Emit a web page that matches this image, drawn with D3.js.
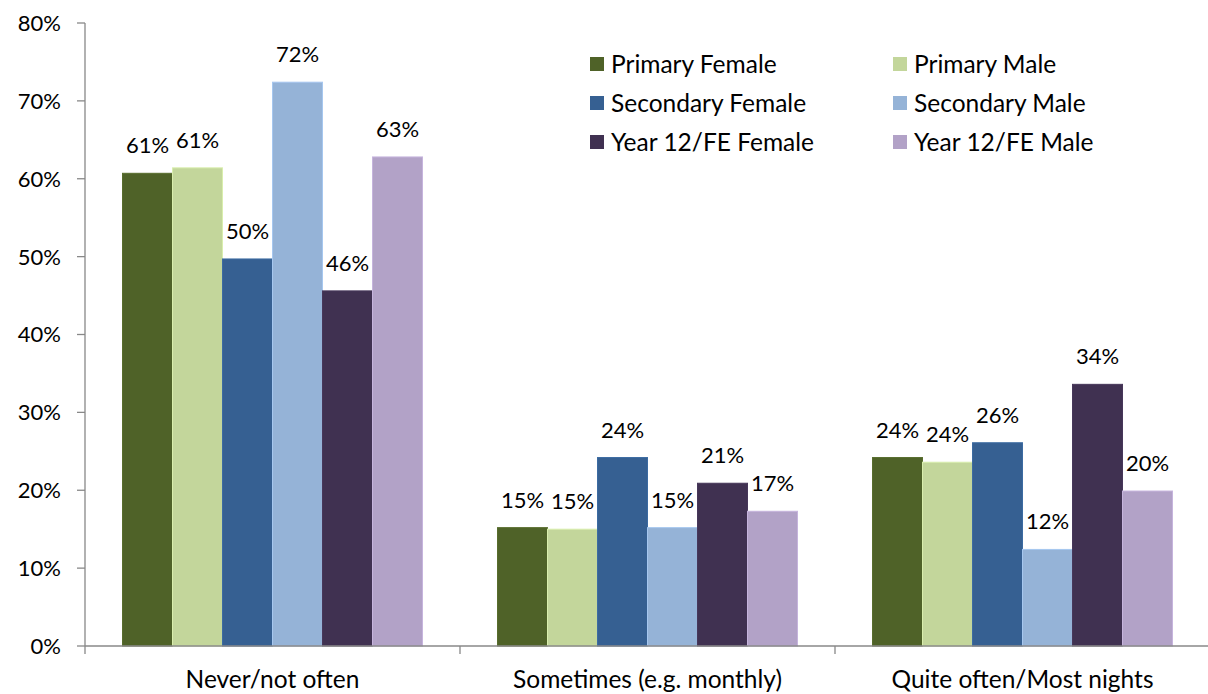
<!DOCTYPE html>
<html>
<head>
<meta charset="utf-8">
<script src="https://cdn.jsdelivr.net/npm/d3@7"></script>
<style>
  body { margin: 0; background: #fff; }
  text { font-family: Lato, "Open Sans", sans-serif; fill: #000; }
</style>
</head>
<body>
<script>
const categories = ["Never/not often", "Sometimes (e.g. monthly)", "Quite often/Most nights"];
const seriesNames = ["Primary Female", "Primary Male", "Secondary Female", "Secondary Male", "Year 12/FE Female", "Year 12/FE Male"];
const seriesColors = ["#4F6228", "#C3D69B", "#366092", "#95B3D7", "#403151", "#B2A2C7"];
const primaryFemale = [60.7, 15.2, 24.2];
const primaryMale = [61.4, 15.0, 23.6];
const secondaryFemale = [49.7, 24.2, 26.1];
const secondaryMale = [72.4, 15.2, 12.4];
const y12Female = [45.6, 20.9, 33.6];
const y12Male = [62.8, 17.3, 19.9];
const yTicks = [0, 10, 20, 30, 40, 50, 60, 70, 80];

const seriesValues = [primaryFemale, primaryMale, secondaryFemale, secondaryMale, y12Female, y12Male];

const margin = { top: 23, right: -2, bottom: 48, left: 85 };
const W = 1208, H = 694;
const width = W - margin.left - margin.right;
const height = H - margin.top - margin.bottom;

const svg = d3.select("body").append("svg")
  .attr("width", W)
  .attr("height", H)
  .append("g")
  .attr("transform", `translate(${margin.left}, ${margin.top})`);

const x0 = d3.scaleBand().domain(categories).range([0, width]).paddingInner(0).paddingOuter(0);
const x1 = d3.scaleBand().domain(seriesNames).range([0, 300]);
const y = d3.scaleLinear().domain([0, 80]).range([height, 0]);
const groupPad = (x0.bandwidth() - 300) / 2;

// axes drawn by hand, Excel style
svg.append("line")
  .attr("x1", 0).attr("x2", 0).attr("y1", 0).attr("y2", height)
  .attr("stroke", "#888").attr("stroke-width", 1.3);
svg.selectAll(".ytick").data(yTicks).enter().append("line")
  .attr("x1", -8).attr("x2", 0)
  .attr("y1", d => y(d)).attr("y2", d => y(d))
  .attr("stroke", "#888").attr("stroke-width", 1.3);
svg.selectAll(".ylab").data(yTicks).enter().append("text")
  .attr("x", -24).attr("y", d => y(d)).attr("dy", "0.36em")
  .attr("text-anchor", "end").style("font-size", "22px")
  .text(d => d + "%");

const groups = svg.selectAll(".grp").data(categories).enter().append("g")
  .attr("transform", d => `translate(${x0(d) + groupPad}, 0)`);

groups.each(function(cat, ci) {
  const g = d3.select(this);
  seriesNames.forEach((s, si) => {
    const v = seriesValues[si][ci];
    g.append("rect")
      .attr("x", x1(s)).attr("width", x1.bandwidth())
      .attr("y", y(v)).attr("height", height - y(v))
      .attr("fill", seriesColors[si])
      .attr("stroke", d3.color(seriesColors[si]).brighter(0.3))
      .attr("stroke-width", 1);
    g.append("text")
      .attr("x", x1(s) + x1.bandwidth() / 2)
      .attr("y", y(v) - 20)
      .attr("text-anchor", "middle").style("font-size", "22px")
      .text(Math.round(v) + "%");
  });
});

svg.append("line")
  .attr("x1", 0).attr("x2", width).attr("y1", height).attr("y2", height)
  .attr("stroke", "#888").attr("stroke-width", 1.3);
const xTickPos = [0, x0.bandwidth(), 2 * x0.bandwidth()];
svg.selectAll(".xtick").data(xTickPos).enter().append("line")
  .attr("x1", d => d).attr("x2", d => d).attr("y1", height).attr("y2", height + 8)
  .attr("stroke", "#888").attr("stroke-width", 1.3);
svg.selectAll(".xlab").data(categories).enter().append("text")
  .attr("x", d => x0(d) + x0.bandwidth() / 2)
  .attr("y", height + 42)
  .attr("text-anchor", "middle").style("font-size", "24.5px")
  .text(d => d);

// legend
const legend = svg.selectAll(".leg").data(seriesNames).enter().append("g")
  .attr("transform", (d, i) => `translate(${(i % 2) * 303 + 590 - margin.left}, ${Math.floor(i / 2) * 39 + 64 - margin.top})`);
legend.append("rect")
  .attr("x", 0).attr("y", -7).attr("width", 14).attr("height", 14)
  .attr("fill", (d, i) => seriesColors[i]);
legend.append("text")
  .attr("x", 21).attr("y", 0).attr("dy", "0.36em")
  .style("font-size", "24.5px")
  .text(d => d);
</script>
</body>
</html>
